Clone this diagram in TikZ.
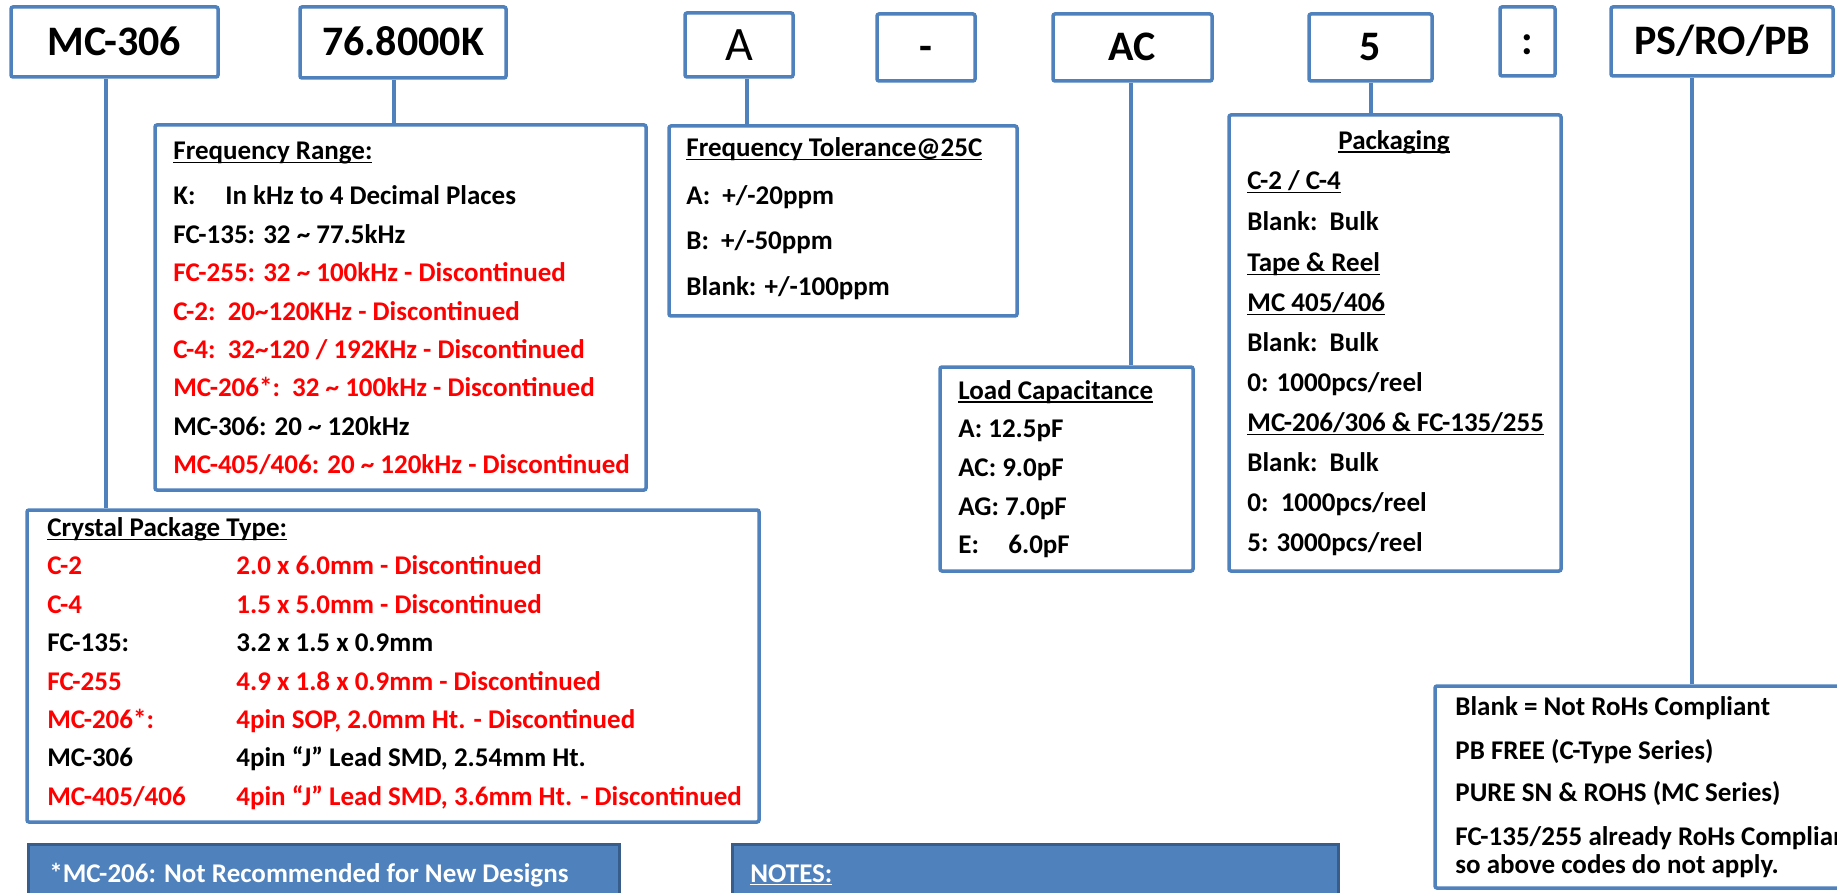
\documentclass[tikz,border=0pt]{standalone}
\usepackage{fontspec}
\setmainfont{Carlito}
\usetikzlibrary{fit}
\definecolor{cblue}{HTML}{4F81BD}
\definecolor{cdark}{HTML}{385D8A}
\definecolor{cred}{HTML}{FF0000}
\newcommand\myul[1]{\setbox0=\hbox{#1}\rlap{\rule[-1.7pt]{\wd0}{0.75pt}}\box0}
\tikzset{
  bx/.style={draw=cblue, line width=1.75pt, rounded corners=1pt, inner sep=0pt, fill=white},
  topl/.style={inner sep=0pt, anchor=center, text height=13.5pt, text depth=0pt, font=\fontsize{21}{25}\selectfont\bfseries},
  tx/.style={anchor=base west, inner sep=0pt, font=\fontsize{13.5}{16}\selectfont\bfseries},
  rd/.style={tx, text=cred},
  ln/.style={draw=cblue, line width=1.75pt},
  nb/.style={fill=cblue, draw=cdark, line width=1.5pt, inner sep=0pt},
  wt/.style={tx, text=white},
}
\begin{document}
\begin{tikzpicture}[x=0.5pt,y=-0.5pt]
\useasboundingbox (0,0) rectangle (1837,893);
\clip (0,0) rectangle (1837,893);
% top code boxes
\node[bx, fit={(11,7) (218,77)}] (mc) {};
\node[bx, fit={(300,7) (506,78)}] (fq) {};
\node[bx, fit={(685,13) (793,77)}] (ta) {};
\node[bx, fit={(877,14) (975,81)}] (dash) {};
\node[bx, fit={(1053,14) (1212,81)}] (ld) {};
\node[bx, fit={(1309,14) (1432,81)}] (pck) {};
\node[bx, fit={(1500,7) (1555,76)}] (colon) {};
\node[bx, fit={(1611,7) (1833,76)}] (rs) {};
\node[topl] (mcl) at (mc.center) {MC-306};
\node[topl] (fql) at (fq.center) {76.8000K};
\node[topl, text height=15.5pt, font=\fontsize{24}{28}\selectfont] (tal) at (ta.center) {A};
\node[topl] (dashl) at (dash.center) {-};
\node[topl] (ldl) at (ld.center) {AC};
\node[topl] (pckl) at (pck.center) {5};
\node[topl] (colonl) at (colon.center) {:};
\node[topl] (rsl) at (rs.center) {PS/RO/PB};
% detail boxes
\node[bx, fit={(155,125) (646,490)}] (fr) {};
\node[bx, fit={(669,126) (1017,316)}] (ft) {};
\node[bx, fit={(940,367) (1193,571)}] (lc) {};
\node[bx, fit={(1229,115) (1561,571)}] (pk) {};
\node[bx, fit={(27,510) (759,822)}] (cp) {};
\node[bx, fit={(1435,686) (1870,888)}] (rh) {};
\node[nb, fit={(28,844) (619,920)}] (n1) {};
\node[nb, fit={(732,844) (1338,920)}] (n2) {};
% connectors
\coordinate (c1) at (106,0);
\coordinate (c2) at (394,0);
\coordinate (c3) at (747,0);
\coordinate (c4) at (1131,0);
\coordinate (c5) at (1371,0);
\coordinate (c6) at (1692,0);
\draw[ln] (mc.south -| c1) -- (cp.north -| c1);
\draw[ln] (fq.south -| c2) -- (fr.north -| c2);
\draw[ln] (ta.south -| c3) -- (ft.north -| c3);
\draw[ln] (ld.south -| c4) -- (lc.north -| c4);
\draw[ln] (pck.south -| c5) -- (pk.north -| c5);
\draw[ln] (rs.south -| c6) -- (rh.north -| c6);
% frequency range
\node[tx] (fr0) at (173,160) {\myul{Frequency Range:}};
\node[tx] (fr1) at (173,205) {K:};
\node[tx] (fr1b) at (225,205) {In kHz to 4 Decimal Places};
\node[tx] (fr2) at (173,243.3) {FC-135: 32 \textasciitilde\ 77.5kHz};
\node[rd] (fr3) at (173,281.7) {FC-255: 32 \textasciitilde\ 100kHz - Discontinued};
\node[rd] (fr4) at (173,320.7) {C-2:\ \ 20\textasciitilde 120KHz - Discontinued};
\node[rd] (fr5) at (173,358.3) {C-4:\ \ 32\textasciitilde 120 / 192KHz - Discontinued};
\node[rd] (fr6) at (173,396.7) {MC-206*:\ \ 32 \textasciitilde\ 100kHz - Discontinued};
\node[tx] (fr7) at (173,435) {MC-306: 20 \textasciitilde\ 120kHz};
\node[rd] (fr8) at (173,473.3) {MC-405/406: 20 \textasciitilde\ 120kHz - Discontinued};
% frequency tolerance
\node[tx] (ft0) at (686,156.7) {\myul{Frequency Tolerance@25C}};
\node[tx] (ft1) at (686,204.3) {A:\ \ +/-20ppm};
\node[tx] (ft2) at (686,250) {B:\ \ +/-50ppm};
\node[tx] (ft3) at (686,296) {Blank: +/-100ppm};
% load capacitance
\node[tx] (lc0) at (958,399.3) {\myul{Load Capacitance}};
\node[tx] (lc1) at (958,437.3) {A: 12.5pF};
\node[tx] (lc2) at (958,476) {AC: 9.0pF};
\node[tx] (lc3) at (958,515) {AG: 7.0pF};
\node[tx] (lc4) at (958,553.3) {E:};
\node[tx] (lc4b) at (1008,553.3) {6.0pF};
% packaging
\node[tx, anchor=base] (pk0) at (1394,149.3) {\myul{Packaging}};
\node[tx] (pk1) at (1247,190) {\myul{C-2 / C-4}};
\node[tx] (pk2) at (1247,231) {Blank:\ \ Bulk};
\node[tx] (pk3) at (1247,271.7) {\myul{Tape \& Reel}};
\node[tx] (pk4) at (1247,311.7) {\myul{MC 405/406}};
\node[tx] (pk5) at (1247,351.7) {Blank:\ \ Bulk};
\node[tx] (pk6) at (1247,391.7) {0: 1000pcs/reel};
\node[tx] (pk7) at (1247,431.7) {\myul{MC-206/306 \& FC-135/255}};
\node[tx] (pk8) at (1247,471.7) {Blank:\ \ Bulk};
\node[tx] (pk9) at (1247,511.7) {0:\ \ 1000pcs/reel};
\node[tx] (pk10) at (1247,551.7) {5: 3000pcs/reel};
% crystal package type
\node[tx] (cp0) at (47,536.7) {\myul{Crystal Package Type:}};
\node[rd] (cp1a) at (47,574.3) {C-2};
\node[rd] (cp1b) at (236,574.3) {2.0 x 6.0mm - Discontinued};
\node[rd] (cp2a) at (47,613.3) {C-4};
\node[rd] (cp2b) at (236,613.3) {1.5 x 5.0mm - Discontinued};
\node[tx] (cp3a) at (47,651.7) {FC-135:};
\node[tx] (cp3b) at (236,651.7) {3.2 x 1.5 x 0.9mm};
\node[rd] (cp4a) at (47,690) {FC-255};
\node[rd] (cp4b) at (236,690) {4.9 x 1.8 x 0.9mm - Discontinued};
\node[rd] (cp5a) at (47,728.3) {MC-206*:};
\node[rd] (cp5b) at (236,728.3) {4pin SOP, 2.0mm Ht. - Discontinued};
\node[tx] (cp6a) at (47,766.7) {MC-306};
\node[tx] (cp6b) at (236,766.7) {4pin “J” Lead SMD, 2.54mm Ht.};
\node[rd] (cp7a) at (47,805.7) {MC-405/406};
\node[rd] (cp7b) at (236,805.7) {4pin “J” Lead SMD, 3.6mm Ht. - Discontinued};
% RoHS
\node[tx] (rh1) at (1455,715) {Blank = Not RoHs Compliant};
\node[tx] (rh2) at (1455,759.3) {PB FREE (C-Type Series)};
\node[tx] (rh3) at (1455,801.7) {PURE SN \& ROHS (MC Series)};
\node[tx] (rh4) at (1455,845) {FC-135/255 already RoHs Compliant};
\node[tx] (rh5) at (1455,873.3) {so above codes do not apply.};
% notes
\node[wt] (n1t) at (49,882) {*MC-206: Not Recommended for New Designs};
\node[wt] (n2t) at (750,882) {\myul{NOTES:}};
\end{tikzpicture}
\end{document}
